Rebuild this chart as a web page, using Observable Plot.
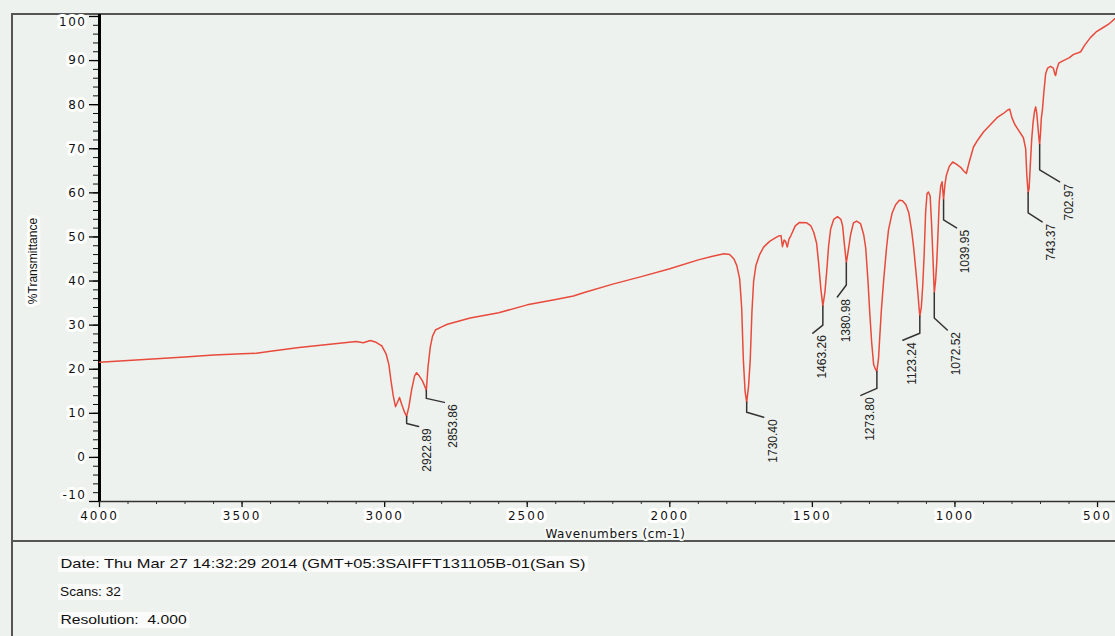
<!DOCTYPE html>
<html>
<head>
<meta charset="utf-8">
<script src="https://cdn.jsdelivr.net/npm/d3@7"></script>
<script src="https://cdn.jsdelivr.net/npm/@observablehq/plot@0.6"></script>
<style>
  html, body { margin: 0; padding: 0; }
  body { width: 1115px; height: 636px; overflow: hidden; position: relative; background: #eef2ee; font-family: "Liberation Sans", Arial, sans-serif; }
  #frame { position: absolute; left: 11px; top: 13px; width: 1104px; height: 623px; border-left: 2px solid #555; border-top: 2px solid #555; box-sizing: border-box; }
  #sep { position: absolute; left: 11px; top: 540px; width: 1104px; border-top: 2px solid #555; }
  #chart { position: absolute; left: 0; top: 0; }
  .meta { position: absolute; left: 58px; font-size: 13px; line-height: 16px; color: #111; background: #fafbfa; padding: 0 2px; white-space: pre; transform-origin: left center; }
</style>
</head>
<body>
<div id="frame"></div>
<div id="sep"></div>
<div id="chart"></div>
<script>
// ---------------- data ----------------
const wavenumber = [
  4000, 3900, 3800, 3700, 3600, 3500, 3450, 3400, 3300, 3200, 3100, 3075, 3050, 3030, 3010,
  2995, 2985, 2978, 2970, 2962, 2955, 2948, 2940, 2930, 2922.89, 2915, 2905, 2895, 2888, 2880,
  2867, 2858, 2853.86, 2848, 2840, 2832, 2822, 2800, 2780, 2700, 2600, 2500, 2400, 2338, 2300,
  2200, 2100, 2000, 1900, 1850, 1810, 1790, 1775, 1765, 1755, 1748, 1742, 1736, 1730.40, 1724,
  1718, 1712, 1706, 1698, 1685, 1671, 1650, 1630, 1619, 1610, 1605, 1599, 1594, 1588, 1582,
  1576, 1560, 1545, 1520, 1505, 1495, 1485, 1478, 1470, 1463.26, 1456, 1450, 1443, 1436, 1425,
  1412, 1400, 1394, 1388, 1380.98, 1374, 1366, 1356, 1345, 1331, 1320, 1313, 1305, 1299, 1292,
  1285, 1278, 1273.80, 1268, 1264, 1258, 1250, 1240, 1233, 1220, 1208, 1195, 1184, 1172, 1162,
  1152, 1145, 1138, 1131, 1126, 1123.24, 1118, 1113, 1108, 1103, 1098, 1093, 1087, 1082, 1077,
  1072.52, 1068, 1064, 1060, 1055, 1050, 1045, 1039.95, 1035, 1030, 1020, 1008, 995, 980, 970,
  960, 950, 935, 920, 900, 875, 850, 830, 815, 808, 800, 790, 775, 760, 752,
  748, 743.37, 740, 736, 731, 726, 721, 717, 713, 709, 705, 702.97, 700, 697, 693,
  688, 682, 675, 665, 655, 650, 647, 643, 636, 620, 600, 584, 570, 559, 545,
  525, 505, 480, 460, 440
];
const transmittance = [
  21.6, 22.0, 22.4, 22.8, 23.2, 23.5, 23.6, 24.1, 24.9, 25.6, 26.3, 26.0, 26.5, 26.1, 25.3,
  23.5, 21.0, 17.5, 14.0, 11.5, 12.5, 13.6, 12.0, 10.2, 9.3, 11.5, 15.5, 18.5, 19.2, 18.6,
  17.3, 15.9, 15.2, 20.5, 25.0, 27.5, 28.9, 29.6, 30.2, 31.6, 32.8, 34.6, 35.8, 36.6, 37.4,
  39.3, 41.0, 42.8, 44.8, 45.6, 46.2, 46.0, 45.0, 43.5, 40.5, 34.0, 22.0, 15.0, 12.5, 16.0,
  22.0, 33.0, 40.0, 43.5, 46.0, 47.7, 49.0, 49.8, 50.2, 50.3, 47.8, 49.3, 49.0, 47.7, 49.5,
  50.2, 52.5, 53.3, 53.2, 52.5, 51.0, 48.5, 44.0, 38.0, 34.3, 37.5, 42.0, 48.0, 51.8, 54.0,
  54.6, 54.0, 52.5, 48.5, 44.1, 47.0, 50.5, 53.2, 53.6, 53.0, 50.5, 47.5, 40.0, 33.0, 26.0,
  21.0, 19.9, 19.5, 22.5, 27.0, 33.5, 40.2, 47.5, 51.6, 55.5, 57.3, 58.3, 58.2, 57.3, 55.5,
  51.5, 47.7, 43.0, 38.0, 34.0, 32.0, 34.0, 39.0, 46.0, 55.5, 59.8, 60.2, 59.3, 53.0, 45.0,
  37.3, 40.0, 44.0, 50.0, 58.0, 61.5, 62.5, 58.4, 62.0, 64.0, 66.0, 67.0, 66.5, 65.8, 65.0,
  64.4, 67.0, 70.4, 72.0, 73.8, 75.5, 77.2, 78.0, 78.8, 79.0, 77.0, 75.5, 74.0, 72.5, 70.0,
  64.0, 60.0, 61.0, 66.0, 72.0, 76.0, 78.5, 79.5, 78.0, 75.0, 72.0, 70.9, 73.5, 77.0, 79.0,
  83.0, 87.0, 88.3, 88.7, 88.3, 87.0, 86.6, 88.0, 89.4, 90.0, 90.6, 91.4, 91.7, 92.0, 93.5,
  95.2, 96.5, 97.5, 98.3, 99.5
];
const peakLabels = ["2922.89", "2853.86", "1730.40", "1463.26", "1380.98", "1273.80", "1123.24", "1072.52", "1039.95", "743.37", "702.97"];
const peakWavenumber = [2922.89, 2853.86, 1730.40, 1463.26, 1380.98, 1273.80, 1123.24, 1072.52, 1039.95, 743.37, 702.97];
const peakTransmittance = [9.3, 15.2, 12.5, 34.3, 44.1, 19.5, 32.0, 37.3, 58.4, 60.0, 70.9];
const xTickValues = [4000, 3500, 3000, 2500, 2000, 1500, 1000, 500];
const yTickValues = [-10, 0, 10, 20, 30, 40, 50, 60, 70, 80, 90, 100];
const xTitle = "Wavenumbers (cm-1)";
const yTitle = "%Transmittance";
const metaLines = ["Date: Thu Mar 27 14:32:29 2014 (GMT+05:3SAIFFT131105B-01(San S)", "Scans: 32", "Resolution:  4.000"];

// ---------------- layout ----------------
const W = 1115, H = 540, ML = 99, MR = 0, MT = 14, MB = 39;
const xDomain = [4000, 437], yDomain = [-10, 100.45];
const kx = (xDomain[0] - xDomain[1]) / (W - ML - MR);   // data units per px
const ky = (yDomain[1] - yDomain[0]) / (H - MT - MB);
// leader: [vertical drop px, horizontal dx px, extra diagonal dy px]
const leaderLayout = [[7,12,3],[8,18,4],[10,17,5],[19,-10,8],[22,-9,12],[17,-16,7],[17,-17,7],[25,13,12],[20,13,8],[20,14,9],[25,20,12]];
const xMinor = d3.range(xDomain[0], xDomain[1], -100);
const yMinor = d3.range(yDomain[0], 101, 2);
const metaTargets = [{top: 556, width: 530}, {top: 584, width: 65}, {top: 612, width: 131}];

const spectrum = wavenumber.map((w, i) => ({w, t: transmittance[i]}));
const peaks = peakLabels.map((label, i) => {
  const [drop, dx, dy] = leaderLayout[i];
  const w = peakWavenumber[i], t = peakTransmittance[i];
  return {label, w, t,
    w1: w, t1: t - drop * ky,
    w2: w - dx * kx, t2: t - (drop + dy) * ky,
    wl: w - (dx + 9) * kx, tl: t - (drop + dy + 2) * ky};
});
const leaderPts = peaks.flatMap(p => [
  {id: p.label, w: p.w, t: p.t},
  {id: p.label, w: p.w1, t: p.t1},
  {id: p.label, w: p.w2, t: p.t2}
]);

const tickFont = "'DejaVu Sans', 'Liberation Sans', sans-serif";
const tickText = {fontSize: 12, fontFamily: tickFont, fill: "#111", stroke: "#ffffff", strokeWidth: 6, strokeLinejoin: "round"};
const yMid = yTickValues.filter(v => v !== yDomain[0] && v !== 100);

const chart = Plot.plot({
  width: W, height: H,
  marginLeft: ML, marginRight: MR, marginTop: MT, marginBottom: MB,
  x: {domain: xDomain},
  y: {domain: yDomain},
  style: {background: "transparent", fontFamily: "'Liberation Sans', Arial, sans-serif", fontSize: "12px", color: "#111", overflow: "visible"},
  marks: [
    Plot.axisX({ticks: xMinor, tickSize: 3, tickFormat: () => "", fill: "none", stroke: "#333", label: null}),
    Plot.axisX({ticks: xTickValues, tickSize: 6, tickFormat: () => "", fill: "none", stroke: "#111", strokeWidth: 1.3, label: null}),
    Plot.axisY({ticks: yMinor, tickSize: 6, tickFormat: () => "", fill: "none", stroke: "#111", label: null}),
    Plot.axisY({ticks: yTickValues, tickSize: 10, tickFormat: () => "", fill: "none", stroke: "#000", strokeWidth: 1.3, label: null}),
    Plot.ruleY([yDomain[0]], {stroke: "#333", strokeWidth: 1.6}),
    Plot.ruleX([xDomain[0]], {stroke: "#000", strokeWidth: 3}),
    Plot.line(spectrum, {x: "w", y: "t", stroke: "#e84a3c", strokeWidth: 1.5, strokeLinejoin: "round"}),
    Plot.line(leaderPts, {x: "w", y: "t", z: "id", stroke: "#333", strokeWidth: 1.5}),
    Plot.text(peaks, {x: "wl", y: "tl", text: "label", rotate: -90, textAnchor: "end", fontSize: 12, fill: "#222"}),
    Plot.text(xTickValues, {x: d => d, y: yDomain[0], dy: 15, text: d => String(d), ...tickText}),
    Plot.text(yMid, {x: xDomain[0], y: d => d, dx: -13, text: d => String(d), textAnchor: "end", ...tickText}),
    Plot.text([100], {x: xDomain[0], y: d => d, dx: -13, dy: 6, text: d => String(d), textAnchor: "end", ...tickText}),
    Plot.text([yDomain[0]], {x: xDomain[0], y: d => d, dx: -13, dy: -6, text: d => String(d), textAnchor: "end", ...tickText}),
    Plot.text([xTitle], {frameAnchor: "bottom", textAnchor: "middle", lineAnchor: "middle", dx: 8, dy: 33, text: d => d, fontSize: 12, fontFamily: tickFont, fill: "#111", stroke: "#f7f9f7", strokeWidth: 4}),
    Plot.text([yTitle], {frameAnchor: "left", textAnchor: "middle", lineAnchor: "middle", dx: -66, dy: 3, rotate: -90, text: d => d, fontSize: 12, fill: "#111", stroke: "#ffffff", strokeWidth: 6})
  ]
});
document.getElementById("chart").appendChild(chart);

// letter spacing for the (stretched-looking) axis texts
const spacing = new Map([
  ...xTickValues.map(v => [String(v), "2px"]),
  ...yTickValues.map(v => [String(v), "1.5px"]),
  [xTitle, "0.6px"]
]);
d3.select(chart).selectAll("text").each(function() {
  const s = spacing.get(this.textContent);
  if (s) this.style.letterSpacing = s;
});

// footer info lines
metaLines.forEach((line, i) => {
  const el = document.createElement("div");
  el.className = "meta";
  el.textContent = line;
  el.style.top = metaTargets[i].top + "px";
  document.body.appendChild(el);
  const w = el.getBoundingClientRect().width;
  el.style.transform = `scaleX(${metaTargets[i].width / w})`;
});
</script>
</body>
</html>
